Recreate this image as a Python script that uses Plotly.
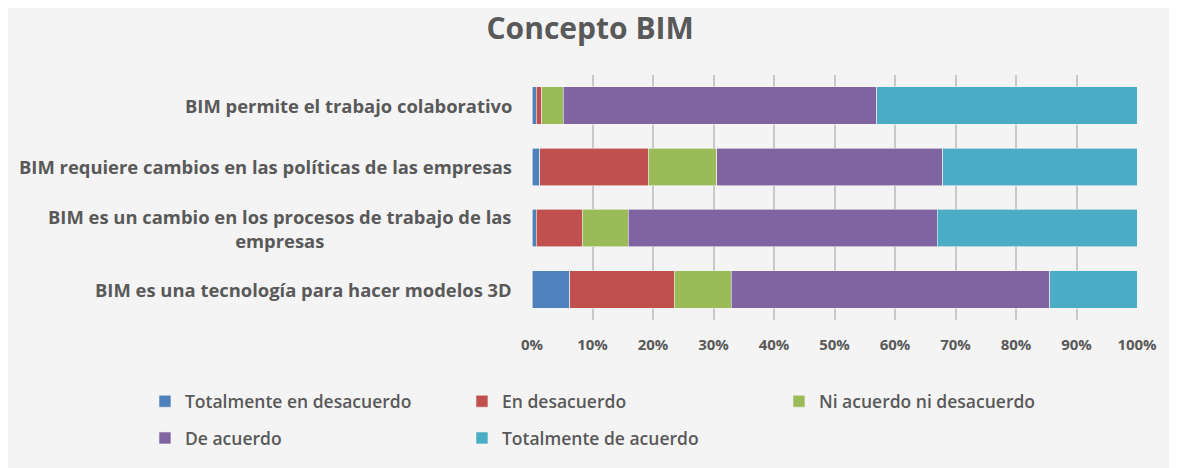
import plotly.graph_objects as go

# survey statements (top to bottom)
statements = [
    "BIM permite el trabajo colaborativo",
    "BIM requiere cambios en las políticas de las empresas",
    "BIM es un cambio en los procesos de trabajo de las<br>empresas",
    "BIM es una tecnología para hacer modelos 3D",
]

# share of answers per statement (%)
totalmente_desacuerdo = [0.7, 1.3, 0.7, 6.2]
en_desacuerdo = [0.9, 17.9, 7.6, 17.3]
ni_acuerdo = [3.6, 11.3, 7.6, 9.4]
de_acuerdo = [51.8, 37.4, 51.1, 52.7]
totalmente_acuerdo = [43.0, 32.1, 33.0, 14.4]

series = [
    ("Totalmente en desacuerdo", totalmente_desacuerdo, "#4f81bd", "legend"),
    ("En desacuerdo", en_desacuerdo, "#c0504d", "legend"),
    ("Ni acuerdo ni desacuerdo", ni_acuerdo, "#9bbb59", "legend"),
    ("De acuerdo", de_acuerdo, "#8064a2", "legend2"),
    ("Totalmente de acuerdo", totalmente_acuerdo, "#4bacc6", "legend2"),
]

tick_vals = [0, 10, 20, 30, 40, 50, 60, 70, 80, 90, 100]
tick_text = [str(v) + "%" for v in tick_vals]

FONT = "Open Sans"
GREY = "#595959"

fig = go.Figure()
for name, vals, color, leg in series:
    fig.add_trace(go.Bar(
        y=statements, x=vals, name=name, orientation="h",
        marker=dict(color=color, line=dict(color="#f4f4f4", width=0.6)),
        legend=leg,
    ))

# category labels as centered annotations
for s in statements:
    fig.add_annotation(
        x=0, xref="paper", y=s, yref="y", text=s, showarrow=False,
        xanchor="right", xshift=-18, align="center",
        font=dict(family=FONT, size=18.4, color=GREY, weight="bold"),
    )

legend_style = dict(
    orientation="h", xanchor="left", yanchor="middle",
    entrywidth=272, itemwidth=30,
    font=dict(family=FONT, size=17.5, color=GREY, weight=600),
    bgcolor="rgba(0,0,0,0)", traceorder="normal",
)

fig.update_layout(
    width=1169, height=460,
    paper_bgcolor="#f4f4f4", plot_bgcolor="#f4f4f4",
    barmode="stack", bargap=0.39,
    margin=dict(l=524, r=40, t=67, b=140),
    title=dict(text="Concepto BIM", x=0.498, xanchor="center", y=0.955, yanchor="middle",
               font=dict(family=FONT, size=30, color=GREY, weight="bold")),
    xaxis=dict(range=[0, 100], tickvals=tick_vals, ticktext=tick_text,
               showgrid=True, gridcolor="#c8c8c8", gridwidth=1.5, zeroline=False,
               showline=False, ticks="", ticklabelstandoff=14,
               tickfont=dict(family=FONT, size=15, color=GREY, weight="bold")),
    yaxis=dict(autorange="reversed", showticklabels=False, showgrid=False, zeroline=False),
    legend=dict(x=-0.6397, y=-0.332, **legend_style),
    legend2=dict(x=-0.6397, y=-0.482, **legend_style),
)

fig.write_html("out.html")
